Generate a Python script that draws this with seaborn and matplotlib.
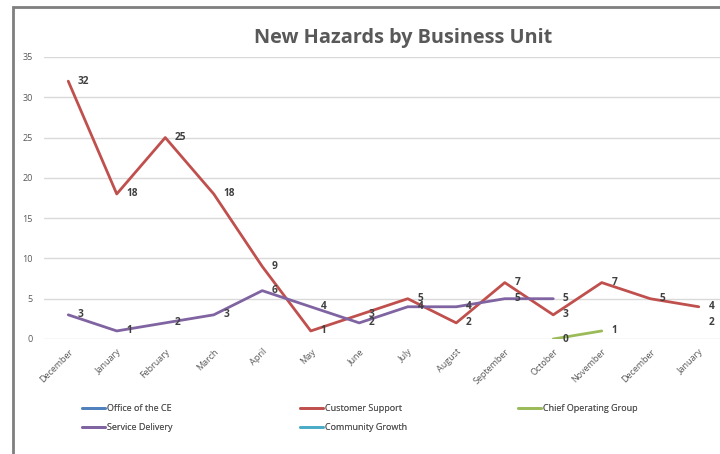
import numpy as np
import pandas as pd
import matplotlib
matplotlib.use("Agg")
import matplotlib.pyplot as plt
from matplotlib.lines import Line2D
from matplotlib.patches import Rectangle
import seaborn as sns

# Chart data
months = ["December", "January", "February", "March", "April", "May", "June",
          "July", "August", "September", "October", "November", "December", "January"]
nan = np.nan
office_ce = [nan] * 14
customer_support = [32, 18, 25, 18, 9, 1, 3, 5, 2, 7, 3, 7, 5, 4]
chief_operating = [nan] * 10 + [0, 1, nan, nan]
service_delivery = [3, 1, 2, 3, 6, 4, 2, 4, 4, 5, 5, nan, nan, nan]
community_growth = [nan] * 13 + [2]

series = {
    "Office of the CE": office_ce,
    "Customer Support": customer_support,
    "Chief Operating Group": chief_operating,
    "Service Delivery": service_delivery,
    "Community Growth": community_growth,
}
colors = {
    "Office of the CE": "#4F81BD",
    "Customer Support": "#C0504D",
    "Chief Operating Group": "#9BBB59",
    "Service Delivery": "#8064A2",
    "Community Growth": "#4BACC6",
}

rows = []
for name, vals in series.items():
    for i, v in enumerate(vals):
        rows.append({"pos": i, "value": v, "unit": name})
df = pd.DataFrame(rows).dropna()

sns.set_style("white")
plt.rcParams["font.family"] = ["Open Sans", "DejaVu Sans"]

fig = plt.figure(figsize=(7.2, 4.54), dpi=100)
ax = fig.add_axes([44 / 720, (454 - 339) / 454, 679 / 720, (339 - 57) / 454])

sns.lineplot(data=df, x="pos", y="value", hue="unit", palette=colors,
             linewidth=2.0, legend=False, ax=ax, sort=False,
             estimator=None)

# data labels to the right of each point
for name, vals in series.items():
    for i, v in enumerate(vals):
        if np.isnan(v):
            continue
        ax.annotate(f"{v:g}", (i, v), xytext=(7, 0), textcoords="offset points",
                    ha="left", va="center", fontsize=7.3, fontweight="bold",
                    color="#404040")

ax.set_xlim(-0.5, 13.5)
ax.set_ylim(0, 35)
ax.set_yticks(range(0, 36, 5))
ax.set_xticks(range(len(months)))
ax.set_xticklabels(months, rotation=45, ha="right", rotation_mode="anchor",
                   fontsize=6.5, color="#595959")
ax.tick_params(axis="y", labelsize=6.5, labelcolor="#595959", length=0, pad=8)
ax.tick_params(axis="x", length=0, pad=6)
ax.grid(axis="y", color="#D9D9D9", linewidth=1)
ax.set_axisbelow(True)
for s in ax.spines.values():
    s.set_visible(False)
ax.set_xlabel("")
ax.set_ylabel("")

fig.text(403 / 720, 1 - 38 / 454, "New Hazards by Business Unit", ha="center",
         va="center", fontsize=14.3, fontweight="bold", color="#595959")

# legend, one block per column so the columns sit at even spacing
columns = [["Office of the CE", "Service Delivery"],
           ["Customer Support", "Community Growth"],
           ["Chief Operating Group"]]
for k, names in enumerate(columns):
    handles = [Line2D([], [], color=colors[n], linewidth=2) for n in names]
    leg = fig.legend(handles, names, loc="upper left",
                     bbox_to_anchor=((82 + 218 * k) / 720, 1 - 404 / 454),
                     frameon=False, fontsize=6.5, labelcolor="#595959",
                     handlelength=2.6, handletextpad=0.2, labelspacing=1.1,
                     borderpad=0, borderaxespad=0)
    fig.add_artist(leg)

# outer chart frame (cropped on the right/bottom)
fig.patches.append(Rectangle((13 / 720, -0.1), 1.2, 1 - 7 / 454 + 0.1,
                             transform=fig.transFigure, fill=False,
                             edgecolor="#7F7F7F", linewidth=2))

fig.savefig("out.png", dpi=100)
